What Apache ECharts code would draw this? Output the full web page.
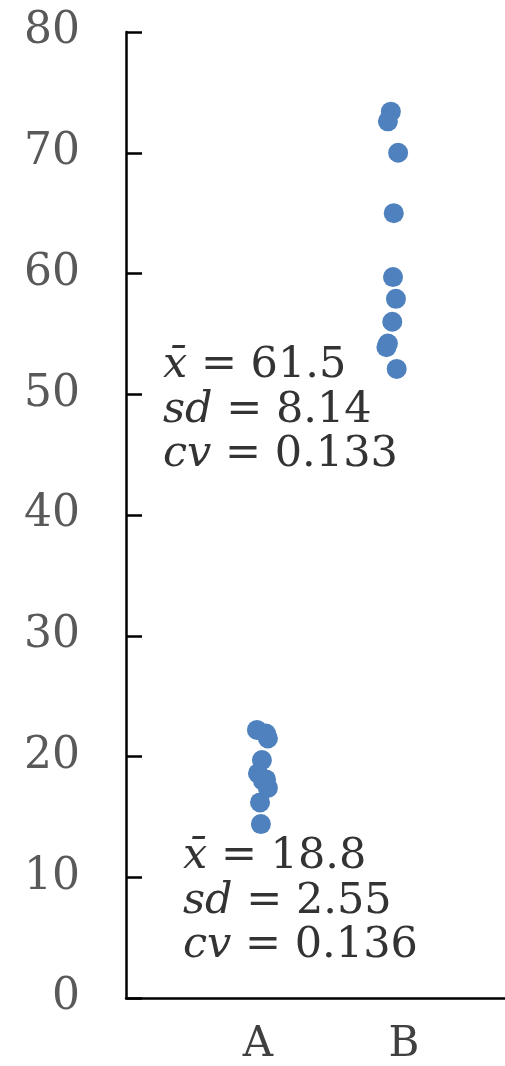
<!DOCTYPE html>
<html>
<head>
<meta charset="utf-8">
<script src="https://cdn.jsdelivr.net/npm/echarts@6/dist/echarts.min.js"></script>
<style>html,body{margin:0;padding:0;background:#fff}#c{width:505px;height:1066px}</style>
</head>
<body>
<div id="c"></div>
<script>
const categories = ['A', 'B'];
const yTicks = [0, 10, 20, 30, 40, 50, 60, 70, 80];
// group position (1 = A, 2 = B) plus small horizontal jitter, and value
const groupAX = [0.993, 1.055, 1.068, 1.027, 1.000, 1.055, 1.068, 1.014, 1.020, 1.034];
const groupAY = [22.2, 21.9, 21.5, 19.7, 18.6, 18.1, 17.4, 16.2, 14.4, 18.0];
const groupBX = [1.91, 1.89, 1.96, 1.93, 1.925, 1.945, 1.92, 1.89, 1.88, 1.95];
const groupBY = [73.4, 72.6, 70.0, 65.0, 59.7, 57.9, 56.0, 54.2, 53.9, 52.1];
const statsA = {mean: '18.8', sd: '2.55', cv: '0.136'};
const statsB = {mean: '61.5', sd: '8.14', cv: '0.133'};

const font = 'DejaVu Serif';
function pts(xs, ys) { return xs.map((x, i) => [x, ys[i]]); }
function statText(s) {
  return '{i|x\u0304} = ' + s.mean + '\n{i|sd} = ' + s.sd + '\n{i|cv} = ' + s.cv;
}
const chart = echarts.init(document.getElementById('c'), null, {renderer: 'canvas'});
const richStyle = {i: {fontStyle: 'italic', fontFamily: font, fontSize: 43, fill: '#333', lineHeight: 44.5}};
chart.setOption({
  animation: false,
  grid: {left: 126, right: 0, top: 32, bottom: 66, containLabel: false},
  xAxis: {
    type: 'value', min: 0.096, max: 2.692,
    splitLine: {show: false},
    axisLine: {show: true, lineStyle: {color: '#000', width: 2.5}},
    axisTick: {show: false},
    axisLabel: {
      customValues: [1, 2],
      formatter: v => categories[Math.round(v) - 1] || '',
      color: '#404040', fontFamily: font, fontSize: 42, margin: 26
    }
  },
  yAxis: {
    type: 'value', min: 0, max: 80, interval: 10,
    splitLine: {show: false},
    axisLine: {show: true, lineStyle: {color: '#000', width: 2.5}},
    axisTick: {show: true, inside: true, length: 16, lineStyle: {color: '#000', width: 2.5}},
    axisLabel: {
      formatter: v => yTicks.includes(v) ? String(v) : '',
      color: '#595959', fontFamily: font, fontSize: 44, margin: 46
    }
  },
  series: [
    {type: 'scatter', data: pts(groupAX, groupAY), symbolSize: 20, itemStyle: {color: '#4E81BD', opacity: 1}},
    {type: 'scatter', data: pts(groupBX, groupBY), symbolSize: 20, itemStyle: {color: '#4E81BD', opacity: 1}}
  ],
  graphic: [
    {type: 'text', left: 163, top: 344, style: {text: statText(statsB), fontFamily: font, fontSize: 43, fill: '#333', lineHeight: 44.5, rich: richStyle}},
    {type: 'text', left: 183, top: 835, style: {text: statText(statsA), fontFamily: font, fontSize: 43, fill: '#333', lineHeight: 44.5, rich: richStyle}}
  ]
});
</script>
</body>
</html>
